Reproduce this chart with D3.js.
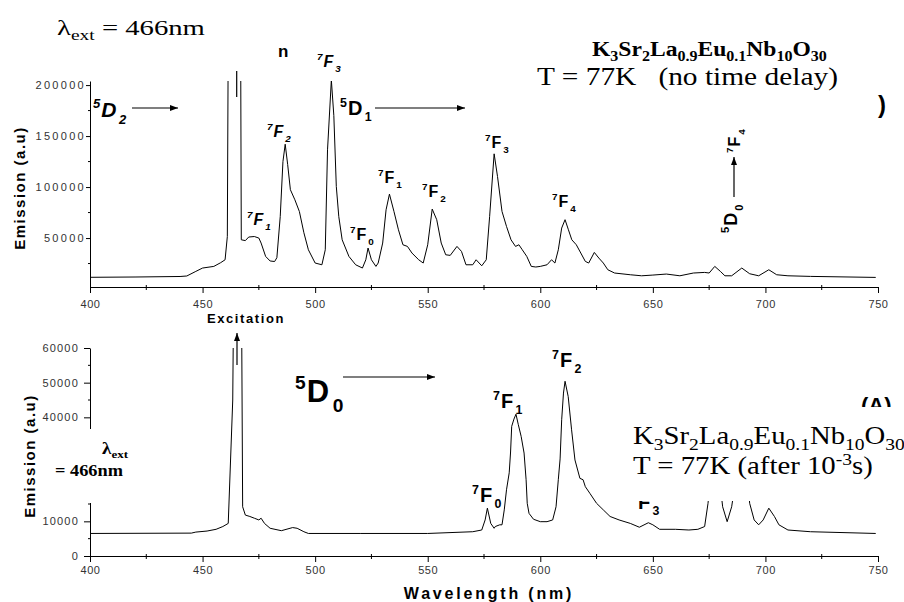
<!DOCTYPE html>
<html>
<head>
<meta charset="utf-8">
<script src="https://cdn.jsdelivr.net/npm/d3@7/dist/d3.min.js"></script>
<style>
body { margin: 0; background: #fff; }
svg { display: block; }
</style>
</head>
<body>
<div id="chart"></div>
<script>
// upper spectrum, T = 77K, no time delay
var topWavelength = [400, 420, 440, 443, 447, 450, 455, 458, 460, 461, 461.4, 466.9, 467.2, 469, 470.5, 473, 475, 476, 478, 480, 482, 483, 484.5, 485.7, 486.7, 487.8, 489, 491, 493, 495, 497, 500, 503, 504.5, 505.5, 507.2, 508.3, 509.4, 510.5, 512, 515, 518, 521, 522.5, 523.5, 525, 527, 528, 530, 531.5, 533, 535, 537, 539, 541, 543, 546, 548, 550, 552, 554, 556, 558, 560, 563, 565, 567, 570, 571.5, 574, 576, 577.5, 579.5, 581, 583, 585, 587, 589, 590.5, 592, 594, 596, 598, 600, 603, 605, 606.5, 608, 609.5, 611, 612.5, 614, 616, 618, 620, 621.5, 624, 626, 628, 630, 633, 640, 645, 650, 656, 662, 668, 673, 675, 677.5, 680, 682, 685, 689.5, 693, 697, 701.5, 705, 710, 720, 749];
var topEmission = [11500, 11800, 12300, 12800, 17300, 20600, 22200, 25800, 28700, 51500, 250000, 250000, 48300, 47500, 51000, 51500, 50000, 45100, 32000, 27500, 27000, 30700, 71200, 125000, 142000, 122000, 97400, 87500, 76000, 55200, 38500, 25500, 23800, 38500, 136500, 205000, 170000, 100600, 71000, 48300, 32000, 23800, 20600, 28700, 40200, 28700, 22200, 25500, 45100, 77700, 93100, 76100, 58100, 43400, 41800, 35300, 28700, 25500, 43400, 78400, 68000, 45100, 33600, 33000, 41800, 36900, 23800, 23800, 28700, 22800, 28700, 71200, 132600, 110400, 76100, 61400, 48300, 41800, 43400, 38500, 32000, 22200, 21600, 22200, 23800, 28700, 25500, 38500, 59800, 68000, 58100, 48300, 43400, 35300, 27100, 25500, 35900, 30400, 25500, 18900, 15700, 14000, 13000, 13700, 14700, 13000, 15700, 16300, 15700, 22200, 17300, 13000, 13000, 20600, 15000, 13000, 18900, 14000, 13000, 12400, 11400];

// lower spectrum, T = 77K, after 10^-3 s
var bottomWavelength = [400, 445, 447, 452, 456, 459, 461.4, 463.4, 463.8, 467.3, 467.8, 469, 471, 473, 475, 476, 477.5, 480, 485, 490, 492, 495, 497, 520, 550, 570, 574, 575.5, 576.5, 578, 579.5, 580, 582, 583, 584, 585, 586.2, 586.8, 587.3, 588.3, 589.2, 590.2, 591.5, 592.8, 593.7, 594.2, 595, 597, 600, 603, 605.5, 607, 608, 608.8, 609.5, 610.3, 611, 612.4, 613.9, 615.4, 617.6, 619, 620, 622, 625, 628, 631, 635, 640, 644, 648, 650, 653, 660, 666, 670, 673, 674.5, 676, 678, 680, 681, 683, 685, 687, 689, 692, 693, 695, 697, 699, 701.5, 704, 706, 710, 720, 749];
var bottomEmission = [6500, 6600, 6900, 7200, 7700, 8500, 9400, 45000, 75000, 75000, 14200, 11800, 11400, 10900, 10400, 10900, 9400, 8000, 7300, 8200, 8000, 7000, 6500, 6500, 6500, 7000, 7500, 10400, 13800, 9400, 8000, 8500, 9000, 9000, 13300, 19100, 24000, 30000, 37400, 39500, 40900, 38000, 34500, 29700, 22000, 15200, 12300, 10600, 9900, 9900, 10400, 14200, 22000, 28000, 39300, 47000, 50400, 46000, 36400, 27700, 22400, 22000, 20000, 18100, 15200, 13300, 11400, 10400, 9400, 8300, 9600, 9000, 7700, 7700, 7500, 7700, 8500, 15200, 24800, 38000, 20000, 14200, 9900, 14200, 22900, 33000, 22900, 15200, 10400, 9000, 10400, 13800, 11400, 9000, 7500, 7000, 6500];

var xTickValues = [400, 450, 500, 550, 600, 650, 700, 750];
var topYTickValues = [50000, 100000, 150000, 200000];
var bottomYTickValues = [0, 10000, 20000, 30000, 40000, 50000, 60000];

var w = 904;
var h = 602;
var sans = "'Liberation Sans', Arial, sans-serif";
var serif = "'Liberation Serif', 'Times New Roman', serif";

var svg = d3.select("#chart").append("svg")
    .attr("width", w)
    .attr("height", h);

var defs = svg.append("defs");
defs.append("marker")
    .attr("id", "head")
    .attr("viewBox", "0 0 8 6")
    .attr("refX", 8).attr("refY", 3)
    .attr("markerWidth", 8).attr("markerHeight", 6)
    .attr("markerUnits", "userSpaceOnUse")
    .attr("orient", "auto")
    .append("path").attr("d", "M0,0L8,3L0,6Z").attr("fill", "#000");

var x = d3.scaleLinear().domain([400, 750]).range([90, 878]);
var yTop = d3.scaleLinear().domain([2000, 204000]).range([287, 81]);
var yBottom = d3.scaleLinear().domain([0, 60000]).range([556, 348]);

function drawPanel(wl, em, y, clipId, yTicks, yMinor, opt) {
    var y0 = y.range()[0], y1 = y.range()[1];

    defs.append("clipPath").attr("id", clipId)
        .append("rect").attr("x", 90).attr("y", y1).attr("width", 788).attr("height", y0 - y1);

    var line = d3.line()
        .x(function(d) { return x(d[0]); })
        .y(function(d) { return y(d[1]); });

    svg.append("path")
        .datum(d3.zip(wl, em))
        .attr("clip-path", "url(#" + clipId + ")")
        .attr("fill", "none")
        .attr("stroke", "#000")
        .attr("stroke-width", 1)
        .attr("d", line);

    // x axis
    var xa = svg.append("g")
        .attr("transform", "translate(0," + y0 + ")")
        .call(d3.axisBottom(x).tickValues(xTickValues).tickSize(6).tickSizeOuter(0).tickFormat(d3.format("d")));
    xa.selectAll("text").attr("y", opt.xLabelY).attr("dy", 0)
        .attr("font-family", sans).attr("font-size", 11).attr("fill", "#333").style("letter-spacing", "0.6px");
    xa.append("g").selectAll("line")
        .data(d3.range(425, 750, 50))
        .enter().append("line")
        .attr("x1", x).attr("x2", x).attr("y1", -2).attr("y2", 3)
        .attr("stroke", "#000");

    // y axis
    var ya = svg.append("g")
        .attr("transform", "translate(90,0)")
        .call(d3.axisLeft(y).tickValues(yTicks).tickSize(opt.yTick).tickPadding(opt.yPad).tickSizeOuter(0).tickFormat(d3.format("d")));
    ya.selectAll("text")
        .attr("font-family", sans).attr("font-size", 11).attr("fill", "#333")
        .style("letter-spacing", opt.ySpacing + "px");
    ya.append("g").selectAll("line")
        .data(yMinor)
        .enter().append("line")
        .attr("x1", -2).attr("x2", 0).attr("y1", y).attr("y2", y)
        .attr("stroke", "#000");
    svg.selectAll(".domain").attr("stroke", "#000");
}

drawPanel(topWavelength, topEmission, yTop, "clipTop", topYTickValues,
    [25000, 75000, 125000, 175000], { xLabelY: 21, yTick: 4, yPad: 0, ySpacing: 2.3 });
drawPanel(bottomWavelength, bottomEmission, yBottom, "clipBottom", bottomYTickValues,
    [5000, 15000, 25000, 35000, 45000, 55000], { xLabelY: 18, yTick: 6, yPad: 5, ySpacing: 1.2 });

// axis titles
function axisTitle(tx, ty, rot, txt, size, spacing) {
    svg.append("text")
        .attr("transform", "translate(" + tx + "," + ty + ") rotate(" + rot + ")")
        .attr("text-anchor", "middle")
        .attr("font-family", sans).attr("font-weight", "bold").attr("font-size", size)
        .style("letter-spacing", spacing + "px")
        .text(txt);
}
axisTitle(25, 188, -90, "Emission (a.u)", 15, 1.5);
axisTitle(35, 456, -90, "Emission (a.u)", 15, 1.5);
axisTitle(489, 599, 0, "Wavelength (nm)", 16, 2.8);

// spectroscopic term labels  sup / main / sub
function term(px, py, sup, main, sub, size, italic, rotate) {
    var t = svg.append("text")
        .attr("font-family", sans).attr("font-weight", "bold")
        .attr("font-size", size)
        .attr("font-style", italic ? "italic" : "normal");
    if (rotate) t.attr("transform", "translate(" + px + "," + py + ") rotate(-90)");
    else t.attr("x", px).attr("y", py);
    t.append("tspan").attr("font-size", size * 0.62).attr("dy", -size * 0.42).text(sup);
    t.append("tspan").attr("dy", size * 0.42).attr("dx", 1).text(main);
    t.append("tspan").attr("font-size", size * 0.62).attr("dy", size * 0.32).attr("dx", size * 0.12).text(sub);
    return t;
}

function arrow(x1, y1, x2, y2, head) {
    var l = svg.append("line")
        .attr("x1", x1).attr("y1", y1).attr("x2", x2).attr("y2", y2)
        .attr("stroke", "#000").attr("stroke-width", 1.2);
    if (head) l.attr("marker-end", "url(#head)");
}

// upper panel labels
term(93, 117, "5", "D", "2", 21, true);
arrow(132, 108, 178, 108, true);
term(317, 67, "7", "F", "3", 16, true);
term(267, 137, "7", "F", "2", 16, true);
term(247, 225, "7", "F", "1", 16, true);
term(340, 115, "5", "D", "1", 20, false);
arrow(375, 108, 465, 108, true);
term(350, 240, "7", "F", "0", 16, false);
term(378, 183, "7", "F", "1", 16, false);
term(422, 197, "7", "F", "2", 16, false);
term(485, 148, "7", "F", "3", 16, false);
term(552, 207, "7", "F", "4", 16, false);
term(737, 233, "5", "D", "0", 18, false, true);
arrow(734, 197, 734, 157, true);
term(740, 153, "7", "F", "4", 16, false, true);
arrow(236.7, 71, 236.7, 97, false);

svg.append("text").attr("x", 278).attr("y", 57)
    .attr("font-family", sans).attr("font-weight", "bold").attr("font-size", 17).text("n");
svg.append("text").attr("x", 878).attr("y", 113)
    .attr("font-family", sans).attr("font-weight", "bold").attr("font-size", 24).text(")");

// serif text pieces, stretched to the width measured on the figure
function serifText(px, py, parts, size, weight, width) {
    var t = svg.append("text")
        .attr("font-family", serif).attr("font-size", size)
        .attr("font-weight", weight)
        .style("white-space", "pre");
    var shift = 0;
    parts.forEach(function(p) {
        var s = p[1] == 0 ? size : size * 0.68;
        var target = p[1] == 1 ? size * 0.22 : (p[1] == -1 ? -size * 0.38 : 0);
        t.append("tspan").attr("font-size", s).attr("dy", target - shift).text(p[0]);
        shift = target;
    });
    var bw = t.node().getComputedTextLength();
    t.attr("transform", "translate(" + px + "," + py + ") scale(" + (width / bw) + ",1)");
}

serifText(57, 35, [["\u03bb", 0], ["ext", 1], [" = 466nm", 0]], 22, "normal", 148);
serifText(592, 56, [["K", 0], ["3", 1], ["Sr", 0], ["2", 1], ["La", 0], ["0.9", 1], ["Eu", 0], ["0.1", 1], ["Nb", 0], ["10", 1], ["O", 0], ["30", 1]], 21, "bold", 235);
serifText(537, 85, [["T = 77K   (no time delay)", 0]], 26, "normal", 301);

// lower panel labels
svg.append("text").attr("x", 246).attr("y", 323).attr("text-anchor", "middle")
    .attr("font-family", sans).attr("font-weight", "bold").attr("font-size", 13)
    .style("letter-spacing", "1.6px").text("Excitation");
arrow(237, 365, 237, 333, true);
term(295, 402, "5", "D", "0", 31, false);
arrow(343, 377, 435, 377, true);
term(493, 408, "7", "F", "1", 20, false);
term(552, 367, "7", "F", "2", 20, false);
term(472, 502, "7", "F", "0", 20, false);

// pieces of labels that sit under the white boxes: only their visible strip is kept
defs.append("clipPath").attr("id", "clipF3")
    .append("rect").attr("x", 600).attr("y", 501).attr("width", 100).attr("height", 30);
term(630, 509, "7", "F", "3", 20, false).attr("clip-path", "url(#clipF3)");
defs.append("clipPath").attr("id", "clipA")
    .append("rect").attr("x", 840).attr("y", 390).attr("width", 64).attr("height", 17);
svg.append("text").attr("x", 861).attr("y", 413)
    .attr("clip-path", "url(#clipA)")
    .attr("font-family", sans).attr("font-weight", "bold").attr("font-size", 22).text("(A)");

// white legend boxes laid over the plot
svg.append("rect").attr("x", 40).attr("y", 429).attr("width", 95).attr("height", 74).attr("fill", "#fff");
svg.append("rect").attr("x", 625).attr("y", 407).attr("width", 279).attr("height", 94).attr("fill", "#fff");

serifText(102, 454, [["\u03bb", 0], ["ext", 1]], 16, "bold", 26);
serifText(55, 476, [["= 466nm", 0]], 17, "bold", 68);
serifText(633, 444, [["K", 0], ["3", 1], ["Sr", 0], ["2", 1], ["La", 0], ["0.9", 1], ["Eu", 0], ["0.1", 1], ["Nb", 0], ["10", 1], ["O", 0], ["30", 1]], 25, "normal", 272);
serifText(633, 474, [["T = 77K (after 10", 0], ["-3", -1], ["s)", 0]], 25, "normal", 240);
</script>
</body>
</html>
